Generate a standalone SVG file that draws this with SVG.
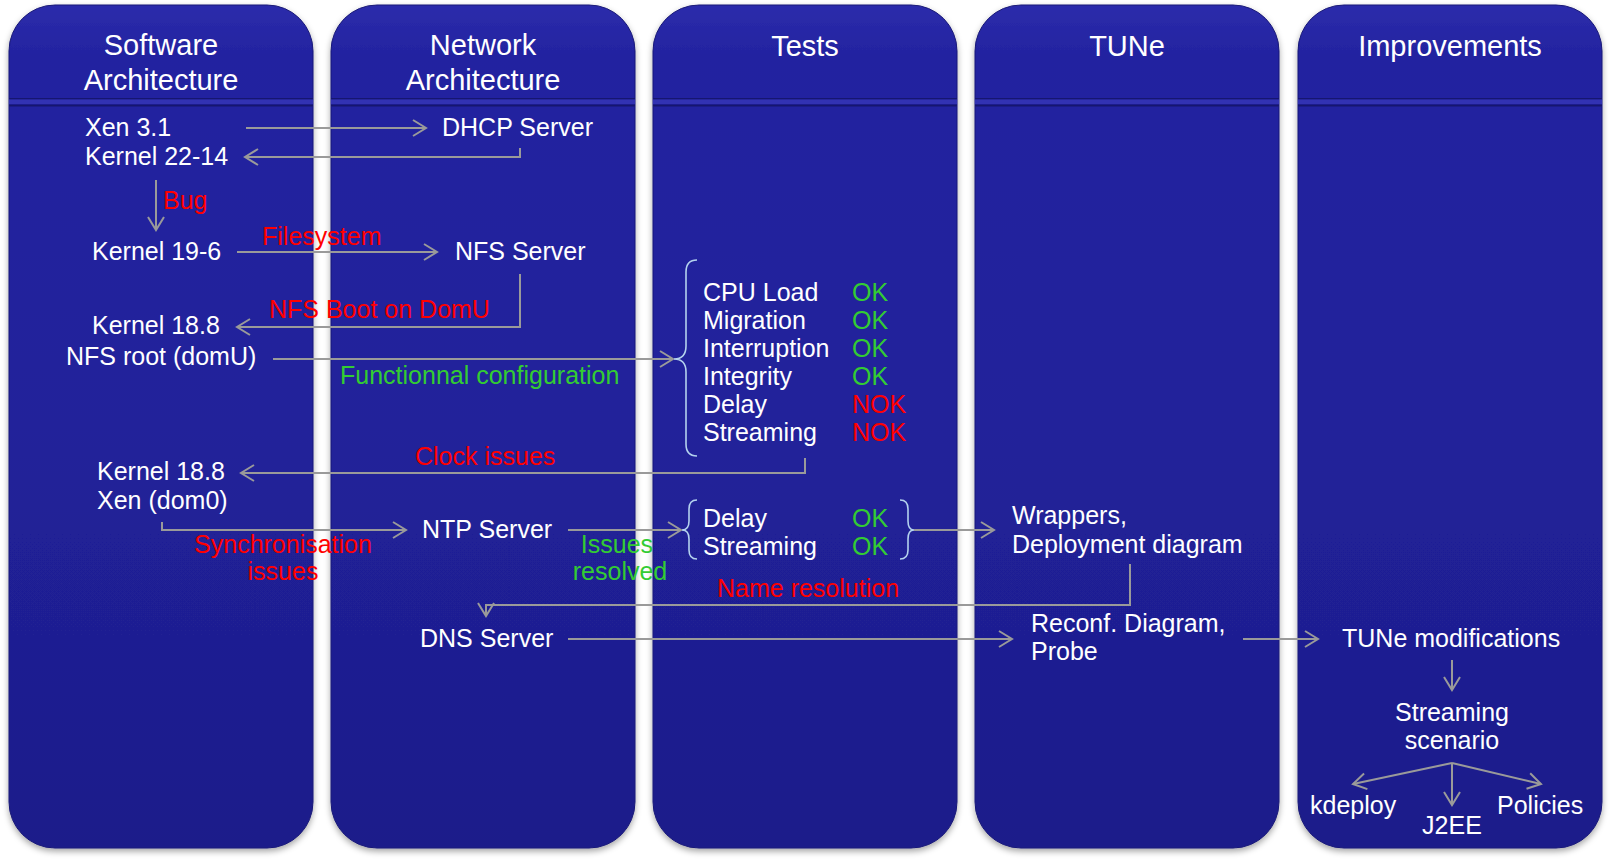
<svg xmlns="http://www.w3.org/2000/svg" width="1615" height="862" viewBox="0 0 1615 862">
<defs>
<linearGradient id="pg" x1="0" y1="0" x2="0" y2="1">
<stop offset="0" stop-color="#2c2cab"/>
<stop offset="0.06" stop-color="#2323a0"/>
<stop offset="0.5" stop-color="#21219a"/>
<stop offset="1" stop-color="#1d1d8a"/>
</linearGradient>
<filter id="sh" x="-5%" y="-5%" width="110%" height="110%">
<feDropShadow dx="0" dy="3" stdDeviation="3" flood-color="#000" flood-opacity="0.35"/>
</filter>
<marker id="ah" markerUnits="userSpaceOnUse" markerWidth="20" markerHeight="20" viewBox="-15 -10 20 20" refX="0" refY="0" orient="auto">
<path d="M -13 -8 L 0 0 L -13 8" fill="none" stroke="#9a9a9a" stroke-width="2"/>
</marker>
<g id="panel">
<rect x="0" y="0" width="304" height="843" rx="46" ry="46" fill="url(#pg)" stroke="#1a1a78" stroke-width="1"/>
<rect x="0" y="93" width="304" height="1.5" fill="#181870"/>
<rect x="0" y="94.5" width="304" height="5" fill="#3131b2"/>
<rect x="0" y="99.5" width="304" height="2" fill="#16166e"/>
</g>
</defs>
<style>
.t{font-family:"Liberation Sans",Arial,Helvetica,sans-serif;font-size:25px;fill:#ffffff}
.h{font-size:29px;text-anchor:middle}
.m{text-anchor:middle}
.r{fill:#ff0000}
.g{fill:#33cc33}
.c{fill:none;stroke:#9a9a9a;stroke-width:2}
.b{fill:none;stroke:#b4d2ee;stroke-width:1.6}
</style>
<rect width="1615" height="862" fill="#ffffff"/>

<g id="panel-software" filter="url(#sh)"><use href="#panel" x="9" y="5"/></g>
<g id="panel-network" filter="url(#sh)"><use href="#panel" x="331" y="5"/></g>
<g id="panel-tests" filter="url(#sh)"><use href="#panel" x="653" y="5"/></g>
<g id="panel-tune" filter="url(#sh)"><use href="#panel" x="975" y="5"/></g>
<g id="panel-improvements" filter="url(#sh)"><use href="#panel" x="1298" y="5"/></g>

<g id="headers">
<text class="t h" x="161" y="55">Software</text>
<text class="t h" x="161" y="90">Architecture</text>
<text class="t h" x="483" y="55">Network</text>
<text class="t h" x="483" y="90">Architecture</text>
<text class="t h" x="805" y="56">Tests</text>
<text class="t h" x="1127" y="56">TUNe</text>
<text class="t h" x="1450" y="56">Improvements</text>
</g>

<g id="connectors">
<path class="c" d="M 246 128 L 426 128" marker-end="url(#ah)"/>
<path class="c" d="M 520 148 L 520 157 L 245 157" marker-end="url(#ah)"/>
<path class="c" d="M 156 180 L 156 230" marker-end="url(#ah)"/>
<path class="c" d="M 237 252 L 437 252" marker-end="url(#ah)"/>
<path class="c" d="M 520 274 L 520 327 L 237 327" marker-end="url(#ah)"/>
<path class="c" d="M 273 359 L 673 359" marker-end="url(#ah)"/>
<path class="c" d="M 805 458 L 805 473 L 241 473" marker-end="url(#ah)"/>
<path class="c" d="M 162 522 L 162 530 L 406 530" marker-end="url(#ah)"/>
<path class="c" d="M 568 530 L 681 530" marker-end="url(#ah)"/>
<path class="c" d="M 914 530 L 994 530" marker-end="url(#ah)"/>
<path class="c" d="M 1130 564 L 1130 605 L 486 605 L 486 616" marker-end="url(#ah)"/>
<path class="c" d="M 568 639 L 1012 639" marker-end="url(#ah)"/>
<path class="c" d="M 1243 639 L 1318 639" marker-end="url(#ah)"/>
<path class="c" d="M 1452 660 L 1452 690" marker-end="url(#ah)"/>
<path class="c" d="M 1452 763 L 1353 784" marker-end="url(#ah)"/>
<path class="c" d="M 1452 763 L 1452 805" marker-end="url(#ah)"/>
<path class="c" d="M 1452 763 L 1541 784" marker-end="url(#ah)"/>
<path class="b" d="M 697 260 Q 686 260 686 272 L 686 346 Q 686 359 674 359 Q 686 359 686 372 L 686 444 Q 686 456 697 456"/>
<path class="b" d="M 697 500 Q 689 500 689 509 L 689 521 Q 689 530 682 530 Q 689 530 689 539 L 689 550 Q 689 559 697 559"/>
<path class="b" d="M 900 500 Q 908 500 908 509 L 908 521 Q 908 530 914 530 Q 908 530 908 539 L 908 550 Q 908 559 900 559"/>
<text class="t r" x="163" y="209">Bug</text>
<text class="t r" x="262" y="245">Filesystem</text>
<text class="t r" x="269" y="318">NFS Boot on DomU</text>
<text class="t g" x="340" y="384">Functionnal configuration</text>
<text class="t r" x="415" y="465">Clock issues</text>
<text class="t r m" x="283" y="553">Synchronisation</text>
<text class="t r m" x="283" y="580">issues</text>
<text class="t g m" x="617" y="553">Issues</text>
<text class="t g m" x="620" y="580">resolved</text>
<text class="t r" x="717" y="597">Name resolution</text>
</g>

<g id="node-xen31"><text class="t" x="85" y="136">Xen 3.1</text><text class="t" x="85" y="165">Kernel 22-14</text></g>
<g id="node-dhcp"><text class="t" x="442" y="136">DHCP Server</text></g>
<g id="node-kernel196"><text class="t" x="92" y="260">Kernel 19-6</text></g>
<g id="node-nfs"><text class="t" x="455" y="260">NFS Server</text></g>
<g id="node-kernel188-domu"><text class="t" x="92" y="334">Kernel 18.8</text><text class="t" x="66" y="365">NFS root (domU)</text></g>
<g id="node-tests1">
<text class="t" x="703" y="301">CPU Load</text>
<text class="t" x="703" y="329">Migration</text>
<text class="t" x="703" y="357">Interruption</text>
<text class="t" x="703" y="385">Integrity</text>
<text class="t" x="703" y="413">Delay</text>
<text class="t" x="703" y="441">Streaming</text>
<text class="t g" x="852" y="301">OK</text>
<text class="t g" x="852" y="329">OK</text>
<text class="t g" x="852" y="357">OK</text>
<text class="t g" x="852" y="385">OK</text>
<text class="t r" x="852" y="413">NOK</text>
<text class="t r" x="852" y="441">NOK</text>
</g>
<g id="node-kernel188-dom0"><text class="t" x="97" y="480">Kernel 18.8</text><text class="t" x="97" y="509">Xen (dom0)</text></g>
<g id="node-ntp"><text class="t" x="422" y="538">NTP Server</text></g>
<g id="node-tests2">
<text class="t" x="703" y="527">Delay</text>
<text class="t" x="703" y="555">Streaming</text>
<text class="t g" x="852" y="527">OK</text>
<text class="t g" x="852" y="555">OK</text>
</g>
<g id="node-wrappers"><text class="t" x="1012" y="524">Wrappers,</text><text class="t" x="1012" y="553">Deployment diagram</text></g>
<g id="node-dns"><text class="t" x="420" y="647">DNS Server</text></g>
<g id="node-reconf"><text class="t" x="1031" y="632">Reconf. Diagram,</text><text class="t" x="1031" y="660">Probe</text></g>
<g id="node-tunemod"><text class="t" x="1342" y="647">TUNe modifications</text></g>
<g id="node-streaming"><text class="t m" x="1452" y="721">Streaming</text><text class="t m" x="1452" y="749">scenario</text></g>
<g id="node-kdeploy"><text class="t" x="1310" y="814">kdeploy</text></g>
<g id="node-j2ee"><text class="t m" x="1452" y="834">J2EE</text></g>
<g id="node-policies"><text class="t" x="1497" y="814">Policies</text></g>
</svg>
